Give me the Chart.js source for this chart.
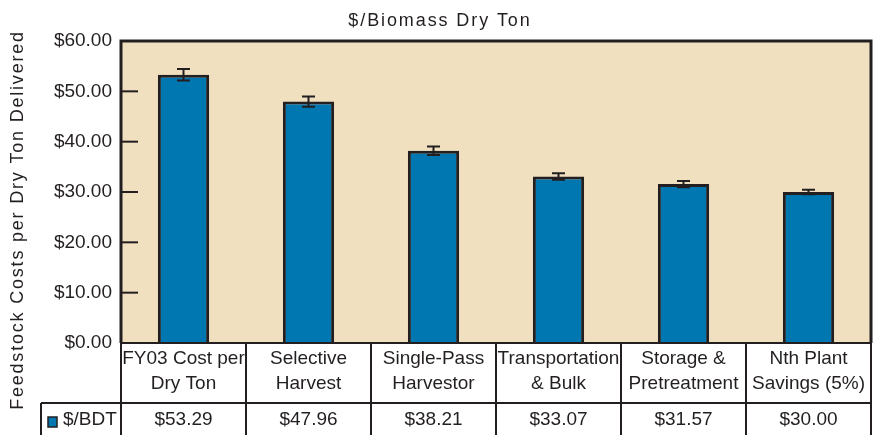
<!DOCTYPE html>
<html>
<head>
<meta charset="utf-8">
<script src="https://cdn.jsdelivr.net/npm/chart.js@4.4.1/dist/chart.umd.min.js"></script>
<style>
  body { margin: 0; background: #fff; }
  .wrap { width: 878px; height: 435px; position: relative; }
</style>
</head>
<body>
<div class="wrap"><canvas id="costChart"></canvas></div>
<script>
// data
const categories = [
  ['FY03 Cost per', 'Dry Ton'],
  ['Selective', 'Harvest'],
  ['Single-Pass', 'Harvestor'],
  ['Transportation', '& Bulk'],
  ['Storage &', 'Pretreatment'],
  ['Nth Plant', 'Savings (5%)']
];
const costValues = [53.29, 47.96, 38.21, 33.07, 31.57, 30.00];
const costErrors = [1.15, 1.0, 0.85, 0.66, 0.64, 0.45];
const seriesName = '$/BDT';
const chartTitle = '$/Biomass Dry Ton';
const yTitle = 'Feedstock Costs per Dry Ton Delivered';

const ink = '#231f20';
const barBlue = '#0077b1';
const FONT = '"Liberation Sans", Arial, sans-serif';

const money = v => '$' + Number(v).toFixed(2);

// background, frame, ticks, error bars, title and data table
const decor = {
  id: 'decor',
  beforeDatasetsDraw(chart) {
    const { ctx, chartArea: a } = chart;
    ctx.save();
    ctx.fillStyle = '#f0e0c0';
    ctx.fillRect(a.left, a.top, a.right - a.left, a.bottom - a.top);
    ctx.restore();
  },
  afterDatasetsDraw(chart) {
    const { ctx, chartArea: a, scales } = chart;
    const y = scales.y;
    ctx.save();
    ctx.strokeStyle = ink;

    // error bars
    const meta = chart.getDatasetMeta(0);
    ctx.lineWidth = 2;
    meta.data.forEach((bar, i) => {
      const hi = y.getPixelForValue(costValues[i] + costErrors[i]);
      const lo = y.getPixelForValue(costValues[i] - costErrors[i]);
      ctx.beginPath();
      ctx.moveTo(bar.x, hi); ctx.lineTo(bar.x, lo);
      ctx.moveTo(bar.x - 6.5, hi); ctx.lineTo(bar.x + 6.5, hi);
      ctx.moveTo(bar.x - 6.5, lo); ctx.lineTo(bar.x + 6.5, lo);
      ctx.stroke();
    });

    // frame
    ctx.lineWidth = 3;
    ctx.beginPath();
    ctx.moveTo(a.left, a.bottom); ctx.lineTo(a.left, a.top);
    ctx.lineTo(a.right, a.top); ctx.lineTo(a.right, a.bottom);
    ctx.stroke();

    // inward tick marks
    ctx.lineWidth = 2;
    y.ticks.forEach(t => {
      const py = y.getPixelForValue(t.value);
      ctx.beginPath();
      ctx.moveTo(a.left, py); ctx.lineTo(a.left + 17, py);
      ctx.stroke();
    });

    // data table
    const n = categories.length;
    const cw = (a.right - a.left) / n;
    const rowSplit = a.bottom + 60;
    const legendLeft = 41;
    const bottom = chart.height;
    ctx.lineWidth = 2;
    ctx.beginPath();
    ctx.moveTo(a.left, a.bottom); ctx.lineTo(a.right, a.bottom);
    ctx.moveTo(legendLeft, rowSplit); ctx.lineTo(a.right, rowSplit);
    ctx.moveTo(legendLeft, rowSplit); ctx.lineTo(legendLeft, bottom);
    for (let i = 0; i <= n; i++) {
      const x = a.left + i * cw;
      ctx.moveTo(x, a.bottom); ctx.lineTo(x, bottom);
    }
    ctx.stroke();

    ctx.fillStyle = ink;
    ctx.font = '19px ' + FONT;
    ctx.textAlign = 'center';
    ctx.textBaseline = 'middle';
    categories.forEach((lines, i) => {
      const cx = a.left + (i + 0.5) * cw;
      lines.forEach((s, k) => ctx.fillText(s, cx, a.bottom + 16 + k * 24.5));
      ctx.fillText(money(costValues[i]), cx, rowSplit + 17);
    });

    // legend cell
    ctx.fillStyle = barBlue;
    ctx.fillRect(48, 417, 9, 10);
    ctx.lineWidth = 1.5;
    ctx.strokeRect(48, 417, 9, 10);
    ctx.fillStyle = ink;
    ctx.textAlign = 'left';
    ctx.fillText(seriesName, 63, rowSplit + 17);

    // title
    ctx.font = '18px ' + FONT;
    ctx.letterSpacing = '1.9px';
    ctx.textAlign = 'center';
    ctx.fillText(chartTitle, 440, 21);

    // y axis title
    ctx.translate(18, 220);
    ctx.rotate(-Math.PI / 2);
    ctx.letterSpacing = '1.8px';
    ctx.fillText(yTitle, 0, 0);
    ctx.restore();
  }
};

const ctx = document.getElementById('costChart').getContext('2d');
const costChart = new Chart(ctx, {
  type: 'bar',
  data: {
    labels: categories,
    datasets: [{
      label: seriesName,
      data: costValues,
      backgroundColor: barBlue,
      borderColor: ink,
      borderWidth: 3,
      barPercentage: 0.41,
      categoryPercentage: 1.0
    }]
  },
  options: {
    responsive: true,
    maintainAspectRatio: false,
    animation: false,
    devicePixelRatio: 1,
    layout: { padding: { top: 41, right: 7, bottom: 92, left: 0 } },
    plugins: {
      legend: { display: false },
      tooltip: { enabled: false }
    },
    scales: {
      x: { display: false },
      y: {
        min: 0,
        max: 60,
        afterFit: scale => { scale.width = 121; },
        grid: { display: false, drawTicks: false },
        border: { display: false },
        ticks: {
          stepSize: 10,
          padding: 9,
          color: ink,
          font: { family: FONT, size: 19 },
          callback: v => money(v)
        }
      }
    }
  },
  plugins: [decor]
});
</script>
</body>
</html>
